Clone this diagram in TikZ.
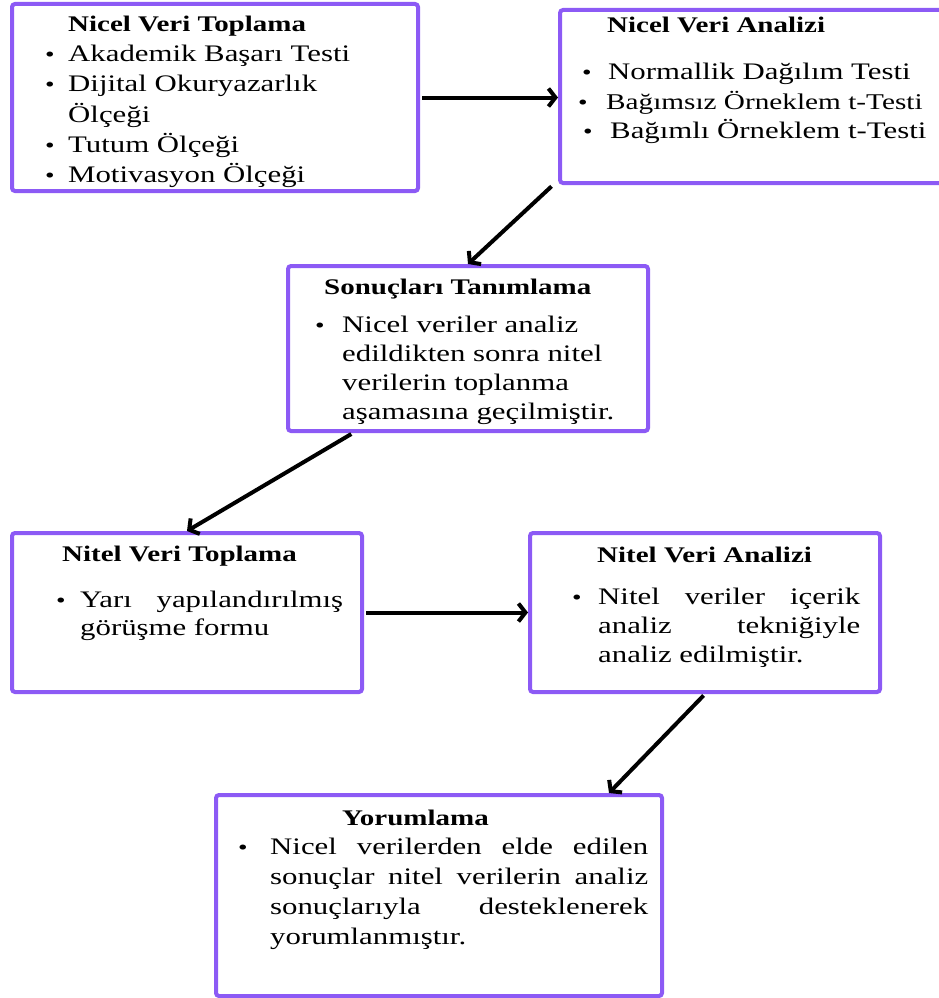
\documentclass[tikz,border=0pt]{standalone}
\usepackage{fontspec}
\setmainfont{Liberation Serif}[FakeStretch=1.3]
\usetikzlibrary{arrows.meta}
\definecolor{boxpurple}{RGB}{140,90,245}
\tikzstyle{flowbox}=[draw=boxpurple, line width=4, rounded corners=3, inner sep=0]
\tikzstyle{flowarrow}=[black, line width=4, shorten <=2, -{Straight Barb[length=7pt,width=18pt]}]
\tikzstyle{titletext}=[anchor=base west, inner sep=0, font=\bfseries\fontsize{22.3}{26}\selectfont]
\tikzstyle{itemtext}=[anchor=base west, inner sep=0, font=\fontsize{23.7}{30}\selectfont]
\tikzstyle{bullet}=[anchor=base, inner sep=0, font=\fontsize{21}{21}\selectfont]

\begin{document}
\begin{tikzpicture}[x=1pt, y=-1pt]
      \useasboundingbox (0,0) rectangle (939,998);
      % boxes
      \node[flowbox, minimum width=406, minimum height=187] (nicelT) at (215,97.5) {};
      \node[flowbox, minimum width=396, minimum height=173] (nicelA) at (758,96.5) {};
      \node[flowbox, minimum width=360, minimum height=165] (sonuc) at (468,348.5) {};
      \node[flowbox, minimum width=350, minimum height=159] (nitelT) at (187,612.5) {};
      \node[flowbox, minimum width=350, minimum height=159] (nitelA) at (705,612.5) {};
      \node[flowbox, minimum width=446, minimum height=201] (yorum) at (439,895.5) {};

      % Nicel Veri Toplama
      \node[titletext] (nicelTbas) at (68,32) {Nicel Veri Toplama};
      \path (68,62) node[itemtext] (nicelT1) {Akademik Başarı Testi} ++(0,30) node[itemtext] (nicelT2) {Dijital Okuryazarlık} ++(0,30) node[itemtext] (nicelT3) {Ölçeği} ++(0,30) node[itemtext] (nicelT4) {Tutum Ölçeği} ++(0,30) node[itemtext] (nicelT5) {Motivasyon Ölçeği};
      \path (50,62) node[bullet] (nicelTb1) {•} ++(0,30) node[bullet] (nicelTb2) {•} ++(0,60) node[bullet] (nicelTb3) {•} ++(0,30) node[bullet] (nicelTb4) {•};

      % Nicel Veri Analizi
      \node[titletext] (nicelAbas) at (607,33) {Nicel Veri Analizi};
      \node[itemtext] (nicelA1) at (608,79) {Normallik Dağılım Testi};
      \node[itemtext, font=\fontsize{22.5}{30}\selectfont] (nicelA2) at (606,109) {Bağımsız Örneklem t-Testi};
      \node[itemtext] (nicelA3) at (610,138) {Bağımlı Örneklem t-Testi};
      \node[bullet] (nicelAb1) at (587,79) {•};
      \node[bullet] (nicelAb2) at (583,109) {•};
      \node[bullet] (nicelAb3) at (588,138) {•};

      % Sonuclari Tanimlama
      \node[titletext] (sonucbas) at (324,294) {Sonuçları Tanımlama};
      \path (342,332) node[itemtext] (sonuc1) {Nicel veriler analiz} ++(0,29) node[itemtext] (sonuc2) {edildikten sonra nitel} ++(0,29) node[itemtext] (sonuc3) {verilerin toplanma} ++(0,29) node[itemtext] (sonuc4) {aşamasına geçilmiştir.};
      \node[bullet] (sonucb1) at (320,332) {•};

      % Nitel Veri Toplama
      \node[titletext] (nitelTbas) at (62,561) {Nitel Veri Toplama};
      \path (80,607) node[itemtext] (nitelT1) {\makebox[263pt][s]{Yarı yapılandırılmış}} ++(0,28) node[itemtext] (nitelT2) {görüşme formu};
      \node[bullet] (nitelTb1) at (61,607) {•};

      % Nitel Veri Analizi
      \node[titletext] (nitelAbas) at (597,562) {Nitel Veri Analizi};
      \path (598,604) node[itemtext] (nitelA1) {\makebox[262pt][s]{Nitel veriler içerik}} ++(0,29) node[itemtext] (nitelA2) {\makebox[262pt][s]{analiz tekniğiyle}} ++(0,29) node[itemtext] (nitelA3) {analiz edilmiştir.};
      \node[bullet] (nitelAb1) at (577,604) {•};

      % Yorumlama
      \node[titletext] (yorumbas) at (342,825) {Yorumlama};
      \path (270,854) node[itemtext] (yorum1) {\makebox[378pt][s]{Nicel verilerden elde edilen}} ++(0,30) node[itemtext] (yorum2) {\makebox[378pt][s]{sonuçlar nitel verilerin analiz}} ++(0,30) node[itemtext] (yorum3) {\makebox[378pt][s]{sonuçlarıyla desteklenerek}} ++(0,30) node[itemtext] (yorum4) {yorumlanmıştır.};
      \node[bullet] (yorumb1) at (243,854) {•};

      % arrows
      \draw[flowarrow] (nicelT.east) -- (nicelT.east -| nicelA.west);
      \draw[flowarrow] ([xshift=-5pt]nicelA.south west) -- (sonuc.north);
      \draw[flowarrow] ([xshift=67pt]sonuc.south west) -- (nitelT.north);
      \draw[flowarrow] (nitelT.east) -- (nitelT.east -| nitelA.west);
      \draw[flowarrow] (nitelA.south) -- ([xshift=-55pt]yorum.north east);
\end{tikzpicture}
\end{document}
